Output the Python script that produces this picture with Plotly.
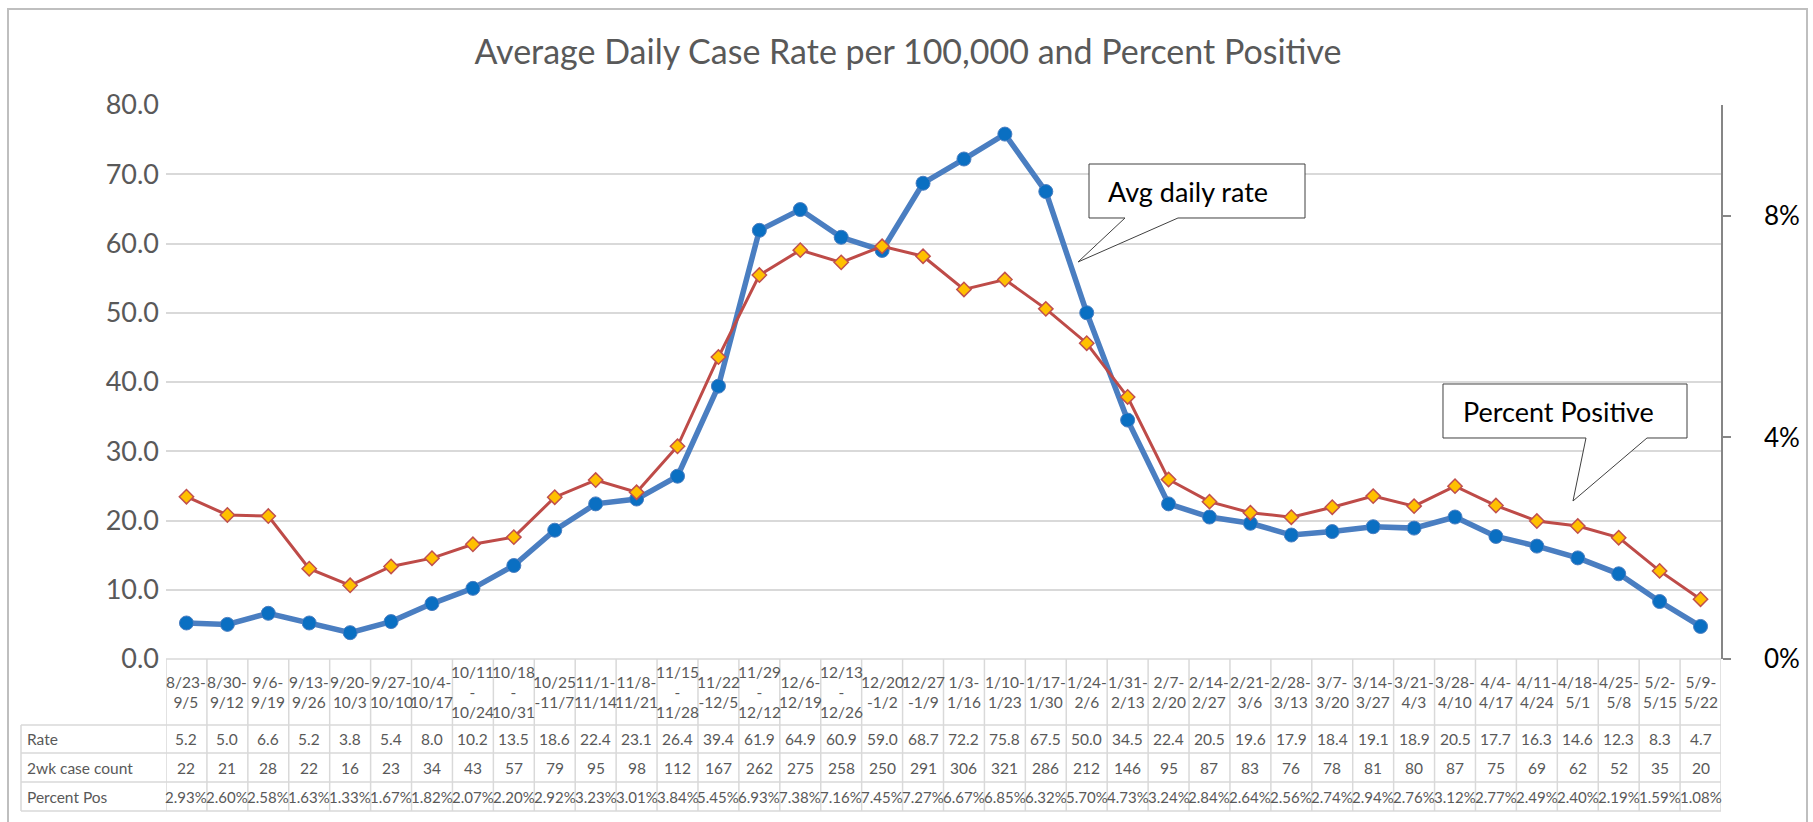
import plotly.graph_objects as go

# ---------------- data ----------------
categories = ["8/23-<br>9/5", "8/30-<br>9/12", "9/6-<br>9/19", "9/13-<br>9/26", "9/20-<br>10/3",
              "9/27-<br>10/10", "10/4-<br>10/17", "10/11<br>-<br>10/24", "10/18<br>-<br>10/31",
              "10/25<br>-11/7", "11/1-<br>11/14", "11/8-<br>11/21", "11/15<br>-<br>11/28",
              "11/22<br>-12/5", "11/29<br>-<br>12/12", "12/6-<br>12/19", "12/13<br>-<br>12/26",
              "12/20<br>-1/2", "12/27<br>-1/9", "1/3-<br>1/16", "1/10-<br>1/23", "1/17-<br>1/30",
              "1/24-<br>2/6", "1/31-<br>2/13", "2/7-<br>2/20", "2/14-<br>2/27", "2/21-<br>3/6",
              "2/28-<br>3/13", "3/7-<br>3/20", "3/14-<br>3/27", "3/21-<br>4/3", "3/28-<br>4/10",
              "4/4-<br>4/17", "4/11-<br>4/24", "4/18-<br>5/1", "4/25-<br>5/8", "5/2-<br>5/15",
              "5/9-<br>5/22"]
rate = [5.2, 5.0, 6.6, 5.2, 3.8, 5.4, 8.0, 10.2, 13.5, 18.6, 22.4, 23.1, 26.4, 39.4, 61.9, 64.9,
        60.9, 59.0, 68.7, 72.2, 75.8, 67.5, 50.0, 34.5, 22.4, 20.5, 19.6, 17.9, 18.4, 19.1, 18.9,
        20.5, 17.7, 16.3, 14.6, 12.3, 8.3, 4.7]
case_count = [22, 21, 28, 22, 16, 23, 34, 43, 57, 79, 95, 98, 112, 167, 262, 275, 258, 250, 291,
              306, 321, 286, 212, 146, 95, 87, 83, 76, 78, 81, 80, 87, 75, 69, 62, 52, 35, 20]
pct_pos = [2.93, 2.60, 2.58, 1.63, 1.33, 1.67, 1.82, 2.07, 2.20, 2.92, 3.23, 3.01, 3.84, 5.45,
           6.93, 7.38, 7.16, 7.45, 7.27, 6.67, 6.85, 6.32, 5.70, 4.73, 3.24, 2.84, 2.64, 2.56,
           2.74, 2.94, 2.76, 3.12, 2.77, 2.49, 2.40, 2.19, 1.59, 1.08]
row_labels = ["Rate", "2wk case count", "Percent Pos"]
left_ticks = [0, 10, 20, 30, 40, 50, 60, 70, 80]
right_ticks = [0, 4, 8]
title_text = "Average Daily Case Rate per 100,000 and Percent Positive"

# ---------------- geometry ----------------
W, H = 1813, 822
L, R, T, B = 166, 1721, 105, 659
FONT = "Lato, 'Open Sans', sans-serif"
GRAY = "#595959"
GRID = "#D9D9D9"


def px_x(p):
    return (p - L) / (R - L)


def px_y(p):
    return (B - p) / (B - T)


n = len(categories)
idx = list(range(n))

fig = go.Figure()
fig.add_trace(go.Scatter(
    x=idx, y=rate, mode="lines+markers", name="Avg daily rate",
    line=dict(color="#4A7EC1", width=5.5),
    marker=dict(symbol="circle", size=14, color="#0A6FC2", line=dict(color="#4A7EC1", width=1)),
    cliponaxis=False, yaxis="y"))
fig.add_trace(go.Scatter(
    x=idx, y=pct_pos, mode="lines+markers", name="Percent Positive",
    line=dict(color="#BE4B48", width=3),
    marker=dict(symbol="diamond", size=11, color="#FFC000", line=dict(color="#C0504D", width=1.5)),
    cliponaxis=False, yaxis="y2"))

shapes = []
annotations = []

# outer chart frame
shapes.append(dict(type="rect", xref="paper", yref="paper",
                   x0=px_x(8), x1=px_x(1807), y0=px_y(9), y1=px_y(840),
                   line=dict(color="#BFBFBF", width=2), layer="below"))

# table
row_edges = [659, 725, 753, 782, 811]
lab_left = 21
for k, yy in enumerate(row_edges):
    x0 = px_x(L) if k == 0 else px_x(lab_left)
    shapes.append(dict(type="line", xref="paper", yref="paper",
                       x0=x0, x1=px_x(R), y0=px_y(yy), y1=px_y(yy),
                       line=dict(color=GRID, width=1.5)))
for i in range(n + 1):
    shapes.append(dict(type="line", xref="x", yref="paper",
                       x0=i - 0.5, x1=i - 0.5, y0=px_y(659), y1=px_y(811),
                       line=dict(color=GRID, width=1.5)))
shapes.append(dict(type="line", xref="paper", yref="paper",
                   x0=px_x(lab_left), x1=px_x(lab_left), y0=px_y(725), y1=px_y(811),
                   line=dict(color=GRID, width=1.5)))

tfont = dict(family=FONT, size=15.5, color=GRAY)
pfont = dict(family=FONT, size=15, color=GRAY)
for i in idx:
    annotations.append(dict(xref="x", yref="paper", x=i, y=px_y(692), text=categories[i],
                            showarrow=False, font=tfont, xanchor="center", yanchor="middle"))
    row_vals = [f"{rate[i]:.1f}", f"{case_count[i]}", f"{pct_pos[i]:.2f}%"]
    for r, v in enumerate(row_vals):
        yc = (row_edges[r + 1] + row_edges[r + 2]) / 2
        annotations.append(dict(xref="x", yref="paper", x=i, y=px_y(yc), text=v,
                                showarrow=False, font=pfont if r == 2 else tfont,
                                xanchor="center", yanchor="middle"))
for r, lab in enumerate(row_labels):
    yc = (row_edges[r + 1] + row_edges[r + 2]) / 2
    annotations.append(dict(xref="paper", yref="paper", x=px_x(lab_left + 4), y=px_y(yc),
                            text=lab, showarrow=False, font=tfont, xanchor="left", yanchor="middle"))


# callouts
def callout(box, base, tip, text, text_x):
    x0, y0, x1, y1 = box
    b0, b1 = base
    tx, ty = tip
    pts = [(x0, y0), (x1, y0), (x1, y1), (b1, y1), (tx, ty), (b0, y1), (x0, y1)]
    path = "M " + " L ".join(f"{px_x(a):.5f},{px_y(b):.5f}" for a, b in pts) + " Z"
    shapes.append(dict(type="path", xref="paper", yref="paper", path=path,
                       fillcolor="white", line=dict(color="#404040", width=1), layer="above"))
    annotations.append(dict(xref="paper", yref="paper", x=px_x(text_x), y=px_y((y0 + y1) / 2),
                            text=text, showarrow=False, xanchor="left", yanchor="middle",
                            font=dict(family=FONT, size=27, color="#000000")))


callout((1089, 164, 1305, 218), (1125, 1178), (1078, 262), "Avg daily rate", 1106)
callout((1443, 384, 1687, 438), (1586, 1647), (1573, 501), "Percent Positive", 1461)

fig.update_layout(
    width=W, height=H,
    margin=dict(l=L, r=W - R, t=T, b=H - B),
    paper_bgcolor="white", plot_bgcolor="white",
    showlegend=False,
    title=dict(text=title_text, xref="container", yref="container",
               x=908 / W, y=1 - 52 / H, xanchor="center", yanchor="middle",
               font=dict(family=FONT, size=34, color=GRAY)),
    xaxis=dict(range=[-0.5, n - 0.5], showgrid=False, zeroline=False, showline=False,
               showticklabels=False, ticks=""),
    yaxis=dict(range=[0, 80], tickvals=left_ticks, tickformat=".1f",
               showgrid=True, gridcolor=GRID, gridwidth=1.5, zeroline=False, showline=False,
               tickfont=dict(family=FONT, size=27, color=GRAY), ticks="", ticklabelstandoff=6),
    yaxis2=dict(range=[0, 10], overlaying="y", side="right", tickvals=right_ticks,
                ticktext=[f"{v}%" for v in right_ticks], showgrid=False, zeroline=False,
                showline=True, linecolor="#868686", linewidth=1.5,
                ticks="outside", ticklen=8, tickcolor="#868686", tickwidth=1.5,
                tickfont=dict(family=FONT, size=26, color="#000000"), ticklabelstandoff=28),
    shapes=shapes, annotations=annotations,
    hovermode=False,
)

fig.write_html("out.html", config={"displayModeBar": False},
               post_script="document.body.style.margin='0px';document.body.style.overflow='hidden';")
